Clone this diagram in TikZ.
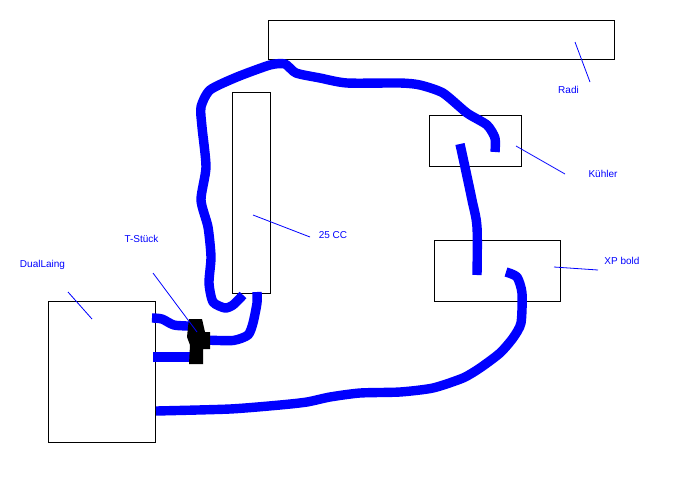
\documentclass[tikz,border=0pt]{standalone}
\usepackage{fontspec}
\setmainfont{Liberation Sans}
\definecolor{hoseblue}{rgb}{0, 0, 1}
\tikzset{
    box/.style={draw, line width=1pt, fill=white, inner sep=0pt},
    hose/.style={line width=9.4pt, color=hoseblue, line join=round},
    leader/.style={line width=0.8pt, color=hoseblue},
    caption/.style={font=\fontsize{10}{12}\selectfont, text=hoseblue, inner sep=0pt}
}

\begin{document}
\begin{tikzpicture}[x=1pt, y=-1pt]
        \useasboundingbox (0, 0) rectangle (688, 499);

        \node [box, minimum width=346pt, minimum height=39pt] (Radi) at (441, 39.5) {};
        \node [box, minimum width=38pt, minimum height=201pt] (CC) at (251, 192.5) {};
        \node [box, minimum width=92pt, minimum height=51pt] (Kuehler) at (475, 140.5) {};
        \node [box, minimum width=126pt, minimum height=61pt] (XP) at (497, 270.5) {};
        \node [box, minimum width=107pt, minimum height=141pt] (Laing) at (101.5, 371.5) {};

        \node [caption] (LRadi) at (568.5, 90) {Radi};
        \node [caption] (LKuehler) at (603, 174) {Kühler};
        \node [caption] (LXP) at (622, 260.5) {XP bold};
        \node [caption] (LCC) at (333, 235) {25 CC};
        \node [caption] (LT) at (141.5, 239) {T-Stück};
        \node [caption] (LLaing) at (42.5, 264.5) {DualLaing};

        % hose ends
        \coordinate (H1) at (243, 295);
        \coordinate (H2) at (495, 152);
        \coordinate (H3) at (460, 144);
        \coordinate (H4) at (477, 275);
        \coordinate (H5) at (506, 272);
        \coordinate (H6) at (156, 411);
        \coordinate (H7) at (152, 318);
        \coordinate (H8) at (190, 326);
        \coordinate (H9) at (153, 357);
        \coordinate (H10) at (190, 357);
        \coordinate (H11) at (205, 340);
        \coordinate (H12) at (257, 292);

        \draw [hose] plot [smooth, tension=0.4] coordinates {(H1) (233, 305) (225, 308) (213, 302) (209, 283) (211, 257) (208, 227) (201, 200) (206, 167) (202, 127) (201, 107) (210, 90) (237, 77) (270, 65) (285, 64) (296, 73) (320, 78) (347, 83) (400, 83) (420, 85) (443, 93) (467, 113) (487, 125) (495, 138) (H2)};
        \draw [hose] plot [smooth, tension=0.5] coordinates {(H3) (465, 167) (472, 200) (477, 227) (H4)};
        \draw [hose] plot [smooth, tension=0.4] coordinates {(H5) (517, 277) (522, 293) (521, 323) (513, 338) (500, 353) (480, 368) (463, 378) (433, 388) (400, 392) (360, 393) (330, 397) (307, 402) (280, 405) (230, 409) (H6)};
        \draw [hose] plot [smooth, tension=0.5] coordinates {(H7) (162, 319) (174, 325) (H8)};
        \draw [hose] (H9) -- (H10);
        \draw [hose] plot [smooth, tension=0.4] coordinates {(H11) (233, 340.5) (248, 335) (253, 323) (257, 303) (H12)};

        % T piece
        \fill [black] (189, 319) -- (202, 319) -- (205, 332) -- (210, 332) -- (210, 349) -- (203, 349) -- (203, 364) -- (189, 364) -- (190, 345) -- (187, 337) -- (188, 327) -- cycle;

        \coordinate (A1) at (575, 42);
        \coordinate (A2) at (590, 82);
        \coordinate (B1) at (516, 146);
        \coordinate (B2) at (565, 174);
        \coordinate (C1) at (554, 267);
        \coordinate (C2) at (598, 270);
        \coordinate (D1) at (253, 215);
        \coordinate (D2) at (310, 237);
        \coordinate (E1) at (153, 273);
        \coordinate (E2) at (197, 332);
        \coordinate (F1) at (68, 292);
        \coordinate (F2) at (92, 319);

        \draw [leader] (A1) -- (A2);
        \draw [leader] (B1) -- (B2);
        \draw [leader] (C1) -- (C2);
        \draw [leader] (D1) -- (D2);
        \draw [leader] (E1) -- (E2);
        \draw [leader] (F1) -- (F2);
    \end{tikzpicture}
\end{document}
